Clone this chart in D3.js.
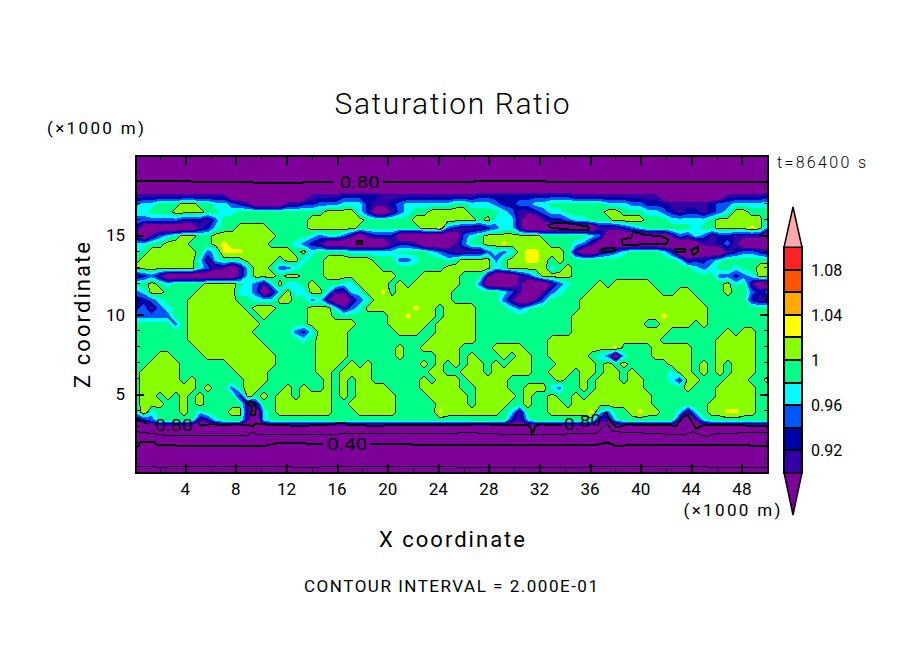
<!DOCTYPE html>
<html>
<head>
<meta charset="utf-8">
<title>Saturation Ratio</title>
<script src="https://cdn.jsdelivr.net/npm/d3@7"></script>
<style>
  body { margin: 0; background: #fff; }
  text { font-family: Roboto, "Liberation Sans", sans-serif; fill: #000; }
  .axis path { display: none; }
  .axis line { stroke: #000; shape-rendering: crispEdges; }
</style>
</head>
<body>
<svg id="chart" width="904" height="654"></svg>
<script>
// saturation ratio, one letter per grid node (top row = z 20 km)
const bandLetters = ["p", "i", "d", "b", "c", "g", "l", "y", "o"];
const bandValues = [0.86, 0.91, 0.93, 0.95, 0.97, 0.99, 1.01, 1.027, 1.05];
const fieldRows = [
  "pppppppppp pppppppppp pppppppppp pppppppppp pppppppppp pppppppppp pppppppppp pppppppppp",
  "pppppppppp pppppppppp pppppppppp pppppppppp pppppppppp pppppppppp pppppppppp pppppppppp",
  "pppppppppp pppppppppp pppppppppp pppppppppp pppppppppp pppppppppp pppppppppp pppppppppp",
  "pppppppppp pppppppppp pppppppppp pppppppppp pppppppppp pppppppppp pppppppppp pppppppppp",
  "pppppppppp pppppppppp pppppppppp pppppppppp pppppppppp pppppppppp pppppppppp pppppppppp",
  "iiiiiiiiii iipppppppp ppiiiidddd diiiiiiiii iiiddddddd dddddiiiii iiiiiipppp ppppiiiiid",
  "bccgggllgg ccbdippppi iddbbbcccd iidbcccccc ggcccbddbb ccgggggggc ccbbdddiii iidbbccccc",
  "ccgggllllg gccggggggg ggggllllcd ppibcgglll llggggcbii dbccgggggl lgggccbdid didbcllggg",
  "bbbbbbdddi bggggggggg ggllllllLg ggggglllll lllglcccip piddbccggg llllgggccc ccgllllllc",
  "dpppppppid cggllllggg ggllllllgg ggggggllyb diiidbccip ppppppppii idbcgggggg cggllllylb",
  "ipibcgllgg llllllllgg ggcbccbipi dddppppppp pbcgllllll lggggggcbp pppppppibd cbiddiiiip",
  "ccgglllggg lylllllggg cbdipppppp ppiddipppp ibggllylll llgggcbipp pppppppppp piidbipppp",
  "cgllllllgb cyyyllllll glcggggccc cccggggcbd iiiibcbcly ylllgippid bcggggcdpp ppppidbbdi",
  "glllllllci cgggllllgl lcggllllll gggbbcgggc gllllbglly ylglgggggg ggggggggci ddbcgggggg",
  "llllllllcb iipicllgbb cgggllllll lggggggggl lllllcglll llcglggggg gggggggggg cbcggcggll",
  "idbipppppp pppiclllgl lgggllllll lllgggllll lgggipppid cllllggggg gggggggggg gggbbdbcll",
  "gglgcggggl lllgcbiclc cglgggccll llglglllll lggbppppip ppibcggglg lllllggggg gggglcgipp",
  "bcllggggll lllccbpicl ccllciiccl lyglllllll ggggggcbip pibcggglll llllllggll gggglggbdb",
  "ddbcggglll lllggcccll ggbcippibc llllllllll ggggggbipp ibggggllll llllllllll lggggggdii",
  "dbibcgglll llllglllgg gglllcibcl lllllyllgl lllggggcbc ggggggllll llllllllll llgggggggg",
  "bbbbbgglll lllllglggg gglllggggg ggllylllgl lllggggggg ggggglllll llllllylll llgggggggg",
  "gggggbglll llllllgggg ggllllllgg gglllllgll lllggggggg ggggglllll llllggllll glgggggggg",
  "ggggggglll lllllggggg bdcllllggg ggglllggll lllggggggg ggggglllll lllllllggg gggglgllgg",
  "ggggggglll llllllgggg gcgllllggg ggggggglll lllggggggg ggllllllll llllllgggg ggglllllgg",
  "ggggggggll lllllllggg gggllllggg ggglggllll lggggllllg ggllllllll ygggglllll ggglllllgg",
  "gggllggggl llllllllgg gggllllggg ggglggggll lglggglgll gglllllgcb pcggglllll ggglllllgg",
  "ggllllgggg ggllllllgg ggglllglgl gggggglglg lgllglglll ggglllllgl glggggglll glglglllgg",
  "glllllgggg gggllllggg gggllgllll gggggggllg glllglllll gglllgllgl lglggggcll glglglllgg",
  "glllllglgg gggglllggg gggglglgll gggggglgll lglllllggg ggglgglgll lgllgggcdl lggglllggl",
  "glllllllgl ggbgllgggl glgglglgll llggggllll lggllllggl llcbgglgll llllgggggl ggglllllgg",
  "gllglglglg gggdlglgll gllllglgll lllgggglll llglllllgl gglgglglll lllllggggg ggglllllgg",
  "glllgglglg ggggiiggll lllllgglll lllgggggll llgllllggl ggllglllll lllllggggg ggllllllgg",
  "cycggglgcg ggllipcgll lllllgggll lllgggggyl llllllgcig gglllllycb gglyllggci cgllyyllgg",
  "idbgggggid cgggipcggg gggggggggg gggggggggg gggggggdic ggggggggii cgggggggip icgggggggg",
  "pppppppppp pppppppppp pppppppppp pppppppppp pppppppppp pppppppppp pppppppppp pppppppppp",
  "pppppppppp pppppppppp pppppppppp pppppppppp pppppppppp pppppppppp pppppppppp pppppppppp",
  "pppppppppp pppppppppp pppppppppp pppppppppp pppppppppp pppppppppp pppppppppp pppppppppp",
  "pppppppppp pppppppppp pppppppppp pppppppppp pppppppppp pppppppppp pppppppppp pppppppppp",
  "pppppppppp pppppppppp pppppppppp pppppppppp pppppppppp pppppppppp pppppppppp pppppppppp",
  "pppppppppp pppppppppp pppppppppp pppppppppp pppppppppp pppppppppp pppppppppp pppppppppp",
  "pppppppppp pppppppppp pppppppppp pppppppppp pppppppppp pppppppppp pppppppppp pppppppppp"
];

// colour bands
const bandEdges = [0.90, 0.92, 0.94, 0.96, 0.98, 1.00, 1.02, 1.04, 1.06, 1.08, 1.10];
const bandColors = ["#7d009b", "#3300a8", "#0000a8", "#0055ff", "#00ffff", "#00ff88",
                    "#88ff00", "#ffff00", "#ffaa00", "#ff5500", "#ff2222", "#ffaaaa"];
const barLabels = ["0.92", "0.96", "1", "1.04", "1.08"];
const barLabelValues = [0.92, 0.96, 1.00, 1.04, 1.08];

// contour lines [x km, z km]
const line08Top = [
  [[0.1, 18.4], [4.9, 18.36], [10.2, 18.29], [15.7, 18.31]],
  [[19.6, 18.31], [25.7, 18.33], [28.6, 18.42], [32.8, 18.36], [38, 18.33], [43.4, 18.33], [50, 18.33]]
];
const line08Low = [
  [[0.1, 3.2], [0.3, 3.4], [0.6, 3.3], [1.0, 3.1]],
  [[5.0, 3.3], [5.2, 3.0], [6, 3.1], [7, 3.05], [8, 3.1], [9, 3.05], [9.3, 2.95], [9.6, 3.15], [10, 3.1],
   [11, 3.05], [13, 3.0], [15, 3.05], [16.3, 3.2], [16.7, 3.15], [17, 3.05], [19, 3.0], [21, 3.05], [24.9, 3.05],
   [27.6, 3.1], [28.9, 3.05], [31.0, 3.05], [31.2, 3.0], [31.4, 2.5], [31.7, 3.0], [32, 3.1], [33, 3.05], [33.8, 3.05]],
  [[37, 3.75], [37.3, 3.8], [37.6, 3.3], [38.1, 2.9], [38.6, 3.0], [39.1, 3.1], [40, 3.05], [42, 3.05],
   [42.8, 3.0], [43.3, 3.5], [43.7, 3.7], [44, 3.3], [44.4, 2.8], [44.8, 3.0], [45.2, 3.05], [47, 3.05], [49, 3.0], [50, 2.95]]
];
const line06 = [
  [[0.1, 2.63], [1.2, 2.53], [2.26, 2.42], [4.9, 2.36], [8.84, 2.36], [9.37, 2.63], [9.76, 2.42], [15.4, 2.48],
   [24.9, 2.53], [26.5, 2.57], [28.9, 2.48], [31.2, 2.42], [32.8, 2.46], [36.5, 2.53], [37.3, 3.15], [37.8, 2.63],
   [40.7, 2.53], [43.4, 2.42], [44.1, 2.63], [45.2, 2.32], [46, 2.53], [50, 2.57]]
];
const line04 = [
  [[0.1, 1.6], [0.55, 2.0], [1.5, 2.0], [1.75, 1.79], [4.9, 1.73], [10.2, 1.73], [11.5, 1.94], [14.9, 1.85]],
  [[18.6, 1.85], [24.9, 1.8], [27.6, 1.79], [33, 1.79], [36.5, 1.79], [37.3, 1.95], [38.1, 1.73], [39.4, 1.79], [48, 1.79], [50, 1.7]]
];
const line02 = [
  [[0.1, 0.45], [2, 0.4], [6, 0.45], [10, 0.42], [14, 0.4], [18, 0.45], [22, 0.42], [25, 0.42], [28, 0.35],
   [33, 0.38], [37, 0.42], [42, 0.45], [46, 0.4], [50, 0.38]]
];
// closed 0.80 loops inside the dry layers
const loops08 = [
  [[32.69, 15.63], [33.35, 15.79], [34.67, 15.69], [35.85, 15.53], [35.93, 15.32], [34.67, 15.32], [33.35, 15.42], [32.82, 15.48]],
  [[38.48, 14.69], [39.27, 14.85], [39.4, 15.2], [40.46, 15.0], [41.77, 14.9], [42.17, 14.69], [42.04, 14.44], [40.19, 14.41], [38.61, 14.37]],
  [[36.77, 14.05], [37.3, 14.2], [37.96, 14.16], [38.0, 13.99], [37.3, 13.9], [36.9, 13.95]],
  [[42.69, 14.11], [43.48, 14.11], [43.48, 13.9], [42.82, 13.9]],
  [[44.0, 14.05], [44.54, 14.27], [44.54, 13.95], [44.14, 13.74]],
  [[8.84, 4.4], [9.2, 4.6], [9.6, 4.2], [9.5, 3.7], [9.2, 3.7], [9.3, 4.2]],
  [[17.6, 14.6], [18.0, 14.6], [18.0, 14.45], [17.6, 14.45]]
];

const xTicks = [4, 8, 12, 16, 20, 24, 28, 32, 36, 40, 44, 48];
const xMinor = [2, 6, 10, 14, 18, 22, 26, 30, 34, 38, 42, 46, 50];
const zTicks = [5, 10, 15];
const zMinor = [1, 2, 3, 4, 6, 7, 8, 9, 11, 12, 13, 14, 16, 17, 18, 19];

const svg = d3.select("#chart");
const x = d3.scaleLinear().domain([0, 50]).range([134.7, 767.2]);
const z = d3.scaleLinear().domain([0, 20]).range([473.5, 155.5]);
const barY = d3.scaleLinear().domain([0.90, 1.10]).range([472.7, 247.3]);
const color = d3.scaleThreshold().domain(bandEdges).range(bandColors);

const plotLeft = 136, plotRight = 768, plotTop = 156, plotBottom = 473;
svg.append("clipPath").attr("id", "plotClip")
  .append("rect").attr("x", plotLeft).attr("y", plotTop).attr("width", plotRight - plotLeft).attr("height", plotBottom - plotTop);

// grid
const rows = fieldRows.map(r => r.toLowerCase().replace(/ /g, ""));
const nx = 80, ny = rows.length;
const values = [];
rows.forEach(r => {
  for (let i = 0; i < nx; i++) {
    const c = r[Math.min(i, r.length - 1)];
    values.push(bandValues[bandLetters.indexOf(c)]);
  }
});
const dxKm = 8 / 12.65, dzKm = 8 / 15.9;
const gridPath = d3.geoPath(d3.geoTransform({
  point(c, r) {
    this.stream.point(x(0.1 + (c - 0.5) * dxKm), z(19.97 - (r - 0.5) * dzKm));
  }
}));

const plot = svg.append("g").attr("clip-path", "url(#plotClip)");
plot.append("rect").attr("x", plotLeft).attr("y", plotTop).attr("width", plotRight - plotLeft).attr("height", plotBottom - plotTop)
  .attr("fill", bandColors[0]);

const contours = d3.contours().size([nx, ny]).thresholds(bandEdges)(values);
plot.selectAll("path.band").data(contours).enter().append("path")
  .attr("class", "band")
  .attr("d", gridPath)
  .attr("fill", d => color(d.value))
  .attr("shape-rendering", "crispEdges");

// 1.00 contour
const oneLine = d3.contours().size([nx, ny]).thresholds([1.0])(values);
plot.selectAll("path.one").data(oneLine).enter().append("path")
  .attr("class", "one")
  .attr("d", gridPath)
  .attr("fill", "none").attr("stroke", "#000").attr("stroke-width", 1)
  .attr("shape-rendering", "crispEdges");

// read-off contour lines
const lineGen = d3.line().x(d => x(d[0])).y(d => z(d[1]));
const drawLines = (segs, w) => {
  plot.append("g").selectAll("path").data(segs).enter().append("path")
    .attr("d", lineGen).attr("fill", "none").attr("stroke", "#000").attr("stroke-width", w)
    .attr("shape-rendering", "crispEdges");
};
drawLines(line08Top, 2);
drawLines(line08Low, 2);
drawLines(line06, 1);
drawLines(line04, 2);
drawLines(line02, 1);
plot.append("g").selectAll("path").data(loops08).enter().append("path")
  .attr("d", d => lineGen(d) + "Z").attr("fill", "none").attr("stroke", "#000").attr("stroke-width", 2)
  .attr("shape-rendering", "crispEdges");

// contour labels
const label = (t, px, py, size, width) => svg.append("text")
  .attr("x", px).attr("y", py).attr("text-anchor", "middle").attr("font-size", size)
  .attr("textLength", width).attr("lengthAdjust", "spacingAndGlyphs").text(t);
label("0.80", x(17.8), z(18.33) + 6, 17, 40);
label("0.80", x(3.1), z(3.05) + 6, 17, 38);
label("0.40", x(16.8), z(1.85) + 6, 17, 40);
label("0.80", x(35.4), z(3.3) + 6, 17, 37).attr("dy", "3 0 -3 -1");

// frame and ticks
svg.append("rect").attr("x", plotLeft).attr("y", plotTop).attr("width", plotRight - plotLeft).attr("height", plotBottom - plotTop)
  .attr("fill", "none").attr("stroke", "#000").attr("stroke-width", 2).attr("shape-rendering", "crispEdges");

const addAxis = (axis, tx, ty, w) => svg.append("g").attr("class", "axis")
  .attr("transform", `translate(${tx},${ty})`).call(axis)
  .call(g => g.selectAll("line").attr("stroke-width", w));

addAxis(d3.axisBottom(x).tickValues(xTicks).tickFormat("").tickSize(-9).tickSizeOuter(0), 0, plotBottom, 2);
addAxis(d3.axisBottom(x).tickValues(xMinor).tickFormat("").tickSize(-4).tickSizeOuter(0), 0, plotBottom, 1);
addAxis(d3.axisTop(x).tickValues(xTicks).tickFormat("").tickSize(-9).tickSizeOuter(0), 0, plotTop, 2);
addAxis(d3.axisTop(x).tickValues(xMinor).tickFormat("").tickSize(-4).tickSizeOuter(0), 0, plotTop, 1);
addAxis(d3.axisLeft(z).tickValues(zTicks).tickFormat("").tickSize(-8).tickSizeOuter(0), plotLeft, 0, 2);
addAxis(d3.axisLeft(z).tickValues(zMinor).tickFormat("").tickSize(-4).tickSizeOuter(0), plotLeft, 0, 1);
addAxis(d3.axisRight(z).tickValues(zTicks).tickFormat("").tickSize(-8).tickSizeOuter(0), plotRight, 0, 2);
addAxis(d3.axisRight(z).tickValues(zMinor).tickFormat("").tickSize(-4).tickSizeOuter(0), plotRight, 0, 1);

// tick labels
svg.append("g").selectAll("text").data(xTicks).enter().append("text")
  .attr("x", d => x(d)).attr("y", 495).attr("text-anchor", "middle").attr("font-size", 17)
  .text(d => d);
svg.append("g").selectAll("text").data(zTicks).enter().append("text")
  .attr("x", 125).attr("y", d => z(d) + 6).attr("text-anchor", "end").attr("font-size", 17)
  .text(d => d);

// titles
const note = (t, cx, cy, size, width, weight) => svg.append("text")
  .attr("x", cx).attr("y", cy).attr("text-anchor", "middle").attr("font-size", size)
  .attr("font-weight", weight || 400)
  .attr("textLength", width).attr("lengthAdjust", "spacing").text(t);
note("Saturation Ratio", 452, 114, 30, 235, 300);
note("(×1000 m)", 95.5, 134, 17, 97);
note("(×1000 m)", 732, 516, 17, 97);
note("t=86400 s", 821.5, 168, 16, 89, 300);
note("X coordinate", 452, 547, 22, 146);
note("CONTOUR INTERVAL = 2.000E-01", 451, 592, 17, 294);
svg.append("text").attr("transform", "translate(90,315) rotate(-90)").attr("text-anchor", "middle")
  .attr("font-size", 22).attr("textLength", 146).attr("lengthAdjust", "spacing").text("Z coordinate");

// colour bar
const bar = svg.append("g");
const barSegs = d3.pairs(bandEdges);
bar.selectAll("rect").data(barSegs).enter().append("rect")
  .attr("x", 784).attr("width", 18)
  .attr("y", d => barY(d[1])).attr("height", d => barY(d[0]) - barY(d[1]))
  .attr("fill", d => color(d[0]))
  .attr("stroke", "#000").attr("stroke-width", 2).attr("shape-rendering", "crispEdges");
const tipTop = d3.path();
tipTop.moveTo(784, barY(1.10)); tipTop.lineTo(793, 207); tipTop.lineTo(802, barY(1.10)); tipTop.closePath();
bar.append("path").attr("d", tipTop.toString()).attr("fill", color(1.2)).attr("stroke", "#000").attr("stroke-width", 1.5);
const tipBot = d3.path();
tipBot.moveTo(784, barY(0.90)); tipBot.lineTo(793, 515); tipBot.lineTo(802, barY(0.90)); tipBot.closePath();
bar.append("path").attr("d", tipBot.toString()).attr("fill", color(0.8)).attr("stroke", "#000").attr("stroke-width", 1.5);
bar.selectAll("text").data(barLabelValues).enter().append("text")
  .attr("x", 811).attr("y", d => barY(d) + 6).attr("font-size", 16)
  .text((d, i) => barLabels[i]);
</script>
</body>
</html>
